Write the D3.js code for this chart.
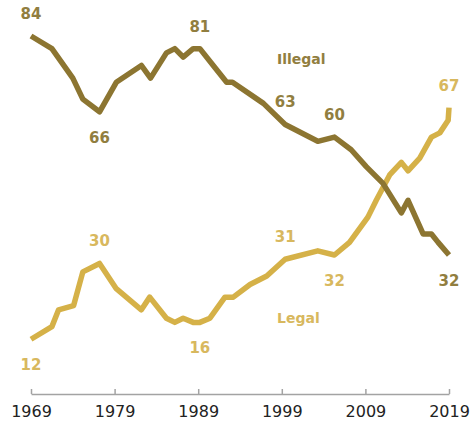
<!DOCTYPE html>
<html>
<head>
<meta charset="utf-8">
<script src="https://cdn.jsdelivr.net/npm/d3@7"></script>
<style>
  html, body { margin: 0; padding: 0; background: #fff; }
  svg { display: block; }
</style>
</head>
<body>
<div id="chart"></div>
<script>
// Survey years (fractional where the point sits between ticks) and shares, in %
const illegalYears = [1969, 1971.5, 1974, 1975.2, 1977.2, 1979.2, 1982.2, 1983.3, 1985.2, 1986.2, 1987.2, 1988.4, 1989.2, 1990.8, 1992.4, 1993.1, 1996.8, 1999.4, 2003.3, 2005.3, 2007.3, 2009.1, 2011.1, 2013.3, 2014.1, 2015.9, 2016.9, 2017.7, 2019];
const illegalValues = [84, 81, 74, 69, 66, 73, 77, 74, 80, 81, 79, 81, 81, 77, 73, 73, 68, 63, 59, 60, 57, 53, 49, 42, 45, 37, 37, 35, 32];

const legalYears = [1969, 1971.5, 1972.3, 1974.1, 1975.2, 1977.2, 1979.2, 1982.2, 1983.2, 1985.2, 1986.2, 1987.2, 1988.4, 1989.2, 1990.4, 1992.2, 1993.2, 1995.2, 1997.2, 1999.4, 2003.3, 2005.3, 2007.1, 2009.3, 2010.3, 2011.9, 2013.3, 2014.1, 2015.5, 2016.9, 2017.9, 2018.9, 2019];
const legalValues = [12, 15, 19, 20, 28, 30, 24, 19, 22, 17, 16, 17, 16, 16, 17, 22, 22, 25, 27, 31, 33, 32, 35, 41, 45, 51, 54, 52, 55, 60, 61, 64, 67];

const tickYears = [1969, 1979, 1989, 1999, 2009, 2019];

// Points that carry a value label
const illegalLabelYears = [1969, 1977.2, 1989.2, 1999.4, 2005.3, 2019];
const illegalLabelValues = [84, 66, 81, 63, 60, 32];
const illegalLabelSides = ["above", "below", "above", "above", "above", "below"];

const legalLabelYears = [1969, 1977.2, 1989.2, 1999.4, 2005.3, 2019];
const legalLabelValues = [12, 30, 16, 31, 32, 67];
const legalLabelSides = ["below", "above", "below", "above", "below", "above"];

const width = 471;
const height = 422;

const darkGold = "#8c7531";
const darkText = "#917e40";
const lightGold = "#d5b148";
const lightText = "#d8b85e";

const svg = d3
  .select("#chart")
  .append("svg")
  .attr("width", width)
  .attr("height", height);

const x = d3.scaleLinear().domain([1969, 2019]).range([31, 449]);
const y = d3.scaleLinear().domain([0, 84]).range([389.8, 36]);

// x axis, ticks pointing up
const axis = svg
  .append("g")
  .attr("transform", "translate(0,394)")
  .call(
    d3.axisBottom(x)
      .tickValues(tickYears)
      .tickFormat(d3.format("d"))
      .tickSizeInner(-5)
      .tickSizeOuter(0)
      .tickPadding(12)
  );
axis.select(".domain").attr("stroke", "#a3a3a3").attr("stroke-width", 1.5);
axis.selectAll(".tick line").attr("stroke", "#a3a3a3").attr("stroke-width", 1.5);
axis.selectAll(".tick text")
  .attr("fill", "#222")
  .attr("font-family", "DejaVu Sans, sans-serif")
  .attr("font-size", 16);

const line = d3
  .line()
  .x((d) => x(d[0]))
  .y((d) => y(d[1]));

const drawSeries = (years, values, color) => {
  svg
    .append("path")
    .datum(d3.zip(years, values))
    .attr("d", line)
    .attr("fill", "none")
    .attr("stroke", color)
    .attr("stroke-width", 5.5)
    .attr("stroke-linejoin", "round");
};

drawSeries(legalYears, legalValues, lightGold);
drawSeries(illegalYears, illegalValues, darkGold);

const drawLabels = (years, values, sides, color) => {
  svg
    .append("g")
    .selectAll("text")
    .data(d3.zip(years, values, sides))
    .enter()
    .append("text")
    .attr("x", (d) => x(d[0]))
    .attr("y", (d) => y(d[1]) + (d[2] === "above" ? -17 : 31))
    .attr("text-anchor", "middle")
    .attr("font-family", "DejaVu Sans, sans-serif")
    .attr("font-weight", "bold")
    .attr("font-size", 15)
    .attr("fill", color)
    .text((d) => d[1]);
};

drawLabels(illegalLabelYears, illegalLabelValues, illegalLabelSides, darkText);
drawLabels(legalLabelYears, legalLabelValues, legalLabelSides, lightText);

// series names
svg.append("text")
  .attr("x", 277)
  .attr("y", 64)
  .attr("font-family", "DejaVu Sans, sans-serif")
  .attr("font-weight", "bold")
  .attr("font-size", 14)
  .attr("fill", darkText)
  .text("Illegal");

svg.append("text")
  .attr("x", 277)
  .attr("y", 323)
  .attr("font-family", "DejaVu Sans, sans-serif")
  .attr("font-weight", "bold")
  .attr("font-size", 14)
  .attr("fill", lightText)
  .text("Legal");
</script>
</body>
</html>
